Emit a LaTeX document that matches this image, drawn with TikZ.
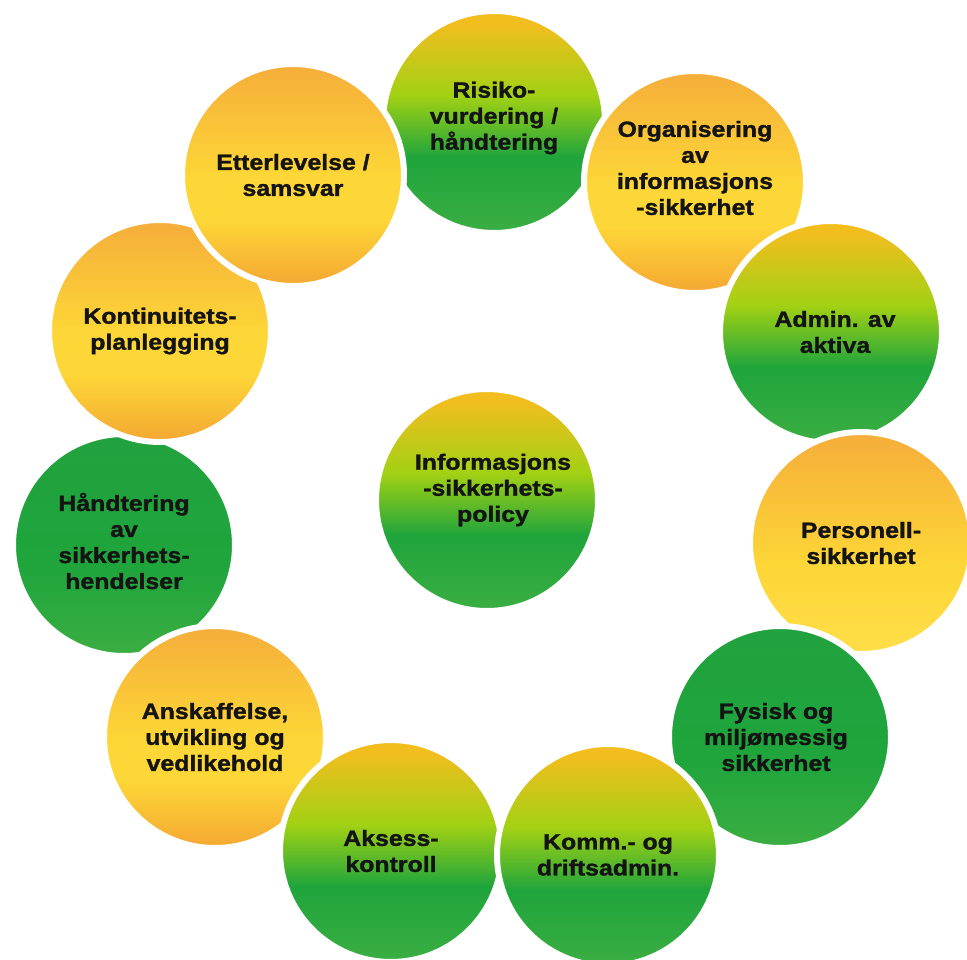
\documentclass[tikz,border=0pt]{standalone}
\usepackage{fontspec}
\newfontfamily\lblfont[FakeStretch=1.13,FakeBold=1.4]{Liberation Sans Bold}
\definecolor{orT}{HTML}{F5AD3A}
\definecolor{orB}{HTML}{F4A732}
\definecolor{yel}{HTML}{FDD637}
\definecolor{yelL}{HTML}{FEDE48}
\definecolor{gyel}{HTML}{F1BE1E}
\definecolor{lime}{HTML}{A2D114}
\definecolor{grn}{HTML}{1FA53C}
\definecolor{grnL}{HTML}{3BAE42}
\definecolor{grnD}{HTML}{21A23E}
\definecolor{txt}{HTML}{141414}
\pgfdeclareverticalshading{oyo}{100bp}{color(0bp)=(orB); color(25bp)=(orB); color(40bp)=(yel); color(50bp)=(yel); color(75bp)=(orT); color(100bp)=(orT)}
\pgfdeclareverticalshading{oyl}{100bp}{color(0bp)=(yelL); color(25bp)=(yelL); color(45bp)=(yel); color(75bp)=(orT); color(100bp)=(orT)}
\pgfdeclareverticalshading{ygg}{100bp}{color(0bp)=(grnL); color(25bp)=(grnL); color(42bp)=(grn); color(56bp)=(lime); color(72bp)=(gyel); color(100bp)=(gyel)}
\pgfdeclareverticalshading{gg}{100bp}{color(0bp)=(grnL); color(25bp)=(grnL); color(45bp)=(grn); color(75bp)=(grnD); color(100bp)=(grnD)}
\begin{document}
\begin{tikzpicture}[x=1pt,y=-1pt,
  ring/.style={circle, minimum size=222pt, inner sep=0pt, draw=white, line width=6pt, shade, shading=#1},
  lbl/.style={align=center, inner sep=0pt, text=txt, font=\lblfont\fontsize{22}{26}\selectfont}]
\useasboundingbox (0,0) rectangle (967,960);
\fill[white] (0,0) rectangle (967,960);
% circles (drawing order sets overlaps)
\node[ring=ygg] (risiko) at (494,122) {};
\node[ring=gg]  (hand)   at (124,545) {};
\node[ring=oyo] (kont)   at (160,331) {};
\node[ring=oyo] (etter)  at (293,175) {};
\node[ring=oyo] (org)    at (695,182) {};
\node[ring=ygg] (admin)  at (831,332) {};
\node[ring=oyl] (pers)   at (861,543) {};
\node[ring=gg]  (fysisk) at (780,737) {};
\node[ring=oyo] (ansk)   at (215,737) {};
\node[ring=ygg] (aksess) at (391,851) {};
\node[ring=ygg] (komm)   at (608,855) {};
\node[ring=ygg] (policy) at (487,500) {};
% labels
\node[lbl] (risiko-t) at ([yshift=4pt]risiko.center) {Risiko-\\vurdering /\\håndtering};
\node[lbl] (org-t)    at ([yshift=14pt]org.center) {Organisering\\av\\informasjons\\-sikkerhet};
\node[lbl] (admin-t)  at ([xshift=4pt]admin.center) {Admin. av\\aktiva};
\node[lbl] (pers-t)   at (pers.center) {Personell-\\sikkerhet};
\node[lbl] (fysisk-t) at ([xshift=-4pt]fysisk.center) {Fysisk og\\miljømessig\\sikkerhet};
\node[lbl] (komm-t)   at (komm.center) {Komm.- og\\driftsadmin.};
\node[lbl] (aksess-t) at (aksess.center) {Aksess-\\kontroll};
\node[lbl] (ansk-t)   at (ansk.center) {Anskaffelse,\\utvikling og\\vedlikehold};
\node[lbl] (hand-t)   at ([yshift=4pt]hand.center) {Håndtering\\av\\sikkerhets-\\hendelser};
\node[lbl] (kont-t)   at (kont.center) {Kontinuitets-\\planlegging};
\node[lbl] (etter-t)  at (etter.center) {Etterlevelse /\\samsvar};
\node[lbl] (policy-t) at ([xshift=6pt,yshift=10pt]policy.center) {Informasjons\\-sikkerhets-\\policy};
\end{tikzpicture}
\end{document}
